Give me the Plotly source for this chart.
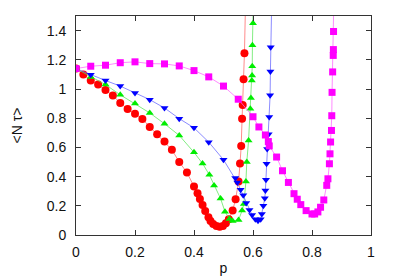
import plotly.graph_objects as go

# red circles
p_red = [0, 0.025, 0.05, 0.075, 0.10, 0.125, 0.15, 0.175, 0.20, 0.225, 0.25, 0.275,
         0.30, 0.325, 0.35, 0.376, 0.40, 0.412, 0.42, 0.429, 0.438, 0.449, 0.456,
         0.465, 0.476, 0.487, 0.498, 0.508, 0.518, 0.531, 0.541, 0.551, 0.556,
         0.56, 0.563, 0.565, 0.568, 0.571, 0.577]
nt_red = [1.14, 1.10, 1.058, 1.03, 0.994, 0.955, 0.904, 0.863, 0.83, 0.795, 0.74, 0.69,
          0.64, 0.584, 0.50, 0.428, 0.332, 0.286, 0.247, 0.206, 0.165, 0.121, 0.096,
          0.076, 0.062, 0.057, 0.062, 0.08, 0.108, 0.167, 0.245, 0.366, 0.49,
          0.61, 0.797, 0.89, 1.067, 1.245, 1.8]

# green triangles
p_green = [0, 0.05, 0.10, 0.15, 0.20, 0.25, 0.30, 0.35, 0.40, 0.429, 0.452, 0.468,
           0.49, 0.505, 0.52, 0.531, 0.551, 0.563, 0.569, 0.576, 0.579, 0.585,
           0.591, 0.593, 0.596, 0.597, 0.5975, 0.598, 0.60, 0.602]
nt_green = [1.14, 1.083, 1.03, 0.96, 0.90, 0.836, 0.762, 0.682, 0.566, 0.49, 0.412, 0.339,
            0.25, 0.16, 0.11, 0.096, 0.103, 0.167, 0.213, 0.366, 0.50, 0.648,
            0.865, 0.939, 1.058, 1.092, 1.156, 1.30, 1.45, 1.7]

# blue triangles (down)
p_blue = [0, 0.05, 0.10, 0.15, 0.20, 0.25, 0.30, 0.35, 0.40, 0.45, 0.50, 0.54, 0.547,
          0.558, 0.567, 0.577, 0.588, 0.597, 0.608, 0.617, 0.626, 0.63, 0.635, 0.64,
          0.642, 0.644, 0.646, 0.648, 0.653, 0.655, 0.658, 0.659, 0.66, 0.664]
nt_blue = [1.14, 1.097, 1.058, 1.02, 0.973, 0.927, 0.87, 0.797, 0.734, 0.636, 0.515, 0.39, 0.36,
           0.31, 0.272, 0.22, 0.172, 0.137, 0.108, 0.098, 0.108, 0.144, 0.20, 0.252,
           0.305, 0.378, 0.488, 0.589, 0.69, 0.808, 0.957, 1.12, 1.286, 1.65]

# magenta squares
p_mag = [0, 0.05, 0.10, 0.15, 0.20, 0.25, 0.30, 0.35, 0.40, 0.45, 0.50, 0.55, 0.60,
         0.62, 0.642, 0.652, 0.655, 0.68, 0.70, 0.72, 0.739, 0.75, 0.762, 0.78, 0.80,
         0.809, 0.82, 0.829, 0.84, 0.85, 0.854, 0.859, 0.861, 0.863, 0.866, 0.867,
         0.868, 0.870, 0.872, 0.8725, 0.873, 0.875]
nt_mag = [1.14, 1.156, 1.163, 1.18, 1.186, 1.174, 1.172, 1.158, 1.126, 1.083, 1.02, 0.93, 0.81,
          0.74, 0.685, 0.64, 0.61, 0.534, 0.44, 0.36, 0.283, 0.245, 0.208, 0.167, 0.144,
          0.144, 0.158, 0.19, 0.24, 0.34, 0.385, 0.488, 0.556, 0.637, 0.716, 0.817,
          0.977, 1.117, 1.23, 1.27, 1.394, 1.7]

series = [
    (p_red, nt_red, "#ff0000", "rgba(255,100,100,0.75)", "circle", 8),
    (p_green, nt_green, "#00ee00", "rgba(90,230,90,0.75)", "triangle-up", 7),
    (p_blue, nt_blue, "#0000ff", "rgba(100,100,255,0.75)", "triangle-down", 7),
    (p_mag, nt_mag, "#ff00ff", "rgba(255,100,255,0.75)", "square", 7),
]

fig = go.Figure()
for x, y, mc, lc, sym, sz in series:
    fig.add_trace(go.Scatter(x=x, y=y, mode="lines+markers",
                             line=dict(color=lc, width=1),
                             marker=dict(color=mc, symbol=sym, size=sz, line=dict(width=0)),
                             showlegend=False))

font = dict(family="Liberation Sans", size=14, color="#111111")
axis_style = dict(showline=True, linecolor="#333333", linewidth=1, mirror="allticks",
                  ticks="inside", ticklen=5, tickcolor="#333333", showgrid=False,
                  zeroline=False, tickfont=font, automargin=False)

fig.update_xaxes(range=[0, 1], dtick=0.2, tickformat="~g", ticklabelstandoff=4,
                 title=dict(text="p", standoff=4, font=font), **axis_style)
fig.update_yaxes(range=[0, 1.5], tickvals=[0, 0.2, 0.4, 0.6, 0.8, 1, 1.2, 1.4], tickformat="~g",
                 ticklabelstandoff=6,
                 title=dict(text="<N τ>", standoff=20, font=font), **axis_style)

fig.update_layout(width=391, height=271, plot_bgcolor="white", paper_bgcolor="white",
                  margin=dict(l=68, r=28, t=8, b=44))

fig.write_html("out.html")
